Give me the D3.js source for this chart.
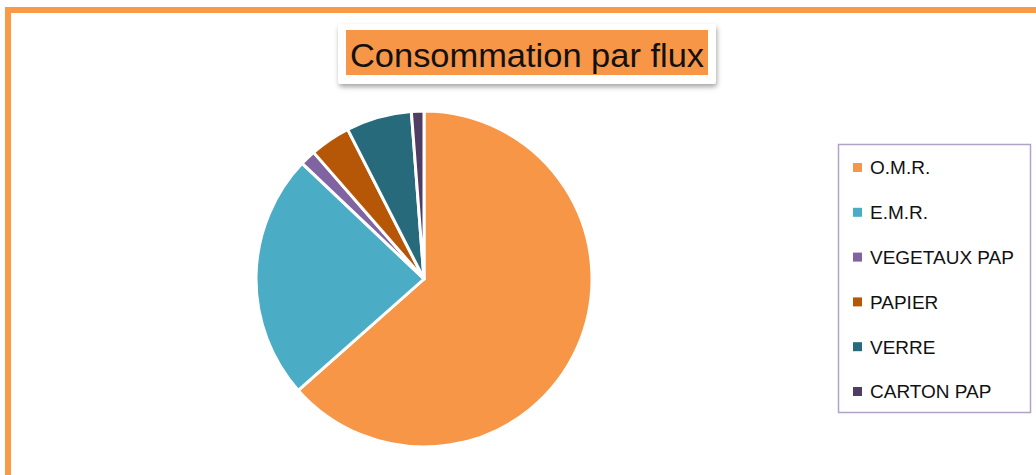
<!DOCTYPE html>
<html><head><meta charset="utf-8">
<script src="https://cdn.jsdelivr.net/npm/d3@7"></script>
<style>html,body{margin:0;padding:0;background:#fff;}svg{display:block;}</style>
</head><body>
<svg id="chart" width="1036" height="475"></svg>
<script>
const title = "Consommation par flux";
const categories = ["O.M.R.", "E.M.R.", "VEGETAUX PAP", "PAPIER", "VERRE", "CARTON PAP"];
const values = [63.4, 23.6, 1.5, 3.9, 6.3, 1.2];
const colors = ["#f79646", "#4bacc6", "#8064a2", "#b65708", "#276a7c", "#4f3d64"];

const svg = d3.select("#chart");
const defs = svg.append("defs");
const f = defs.append("filter").attr("id","sh").attr("x","-10%").attr("y","-30%").attr("width","120%").attr("height","170%");
f.append("feDropShadow").attr("dx",1).attr("dy",3).attr("stdDeviation",2.5).attr("flood-color","#000").attr("flood-opacity",0.35);

// outer border
svg.append("rect").attr("x",8).attr("y",10).attr("width",1040).attr("height",480)
  .attr("fill","none").attr("stroke","#f89a48").attr("stroke-width",6);

// title
const tg = svg.append("g");
tg.append("rect").attr("x",338).attr("y",24).attr("width",378).attr("height",60).attr("rx",3)
  .attr("fill","#fff").attr("filter","url(#sh)");
tg.append("rect").attr("x",346).attr("y",30).attr("width",362).attr("height",45).attr("fill","#f79646");
tg.append("text").attr("x",527).attr("y",67).attr("text-anchor","middle")
  .attr("font-family","'Liberation Sans', Arial, sans-serif").attr("font-size",34).attr("fill","#111")
  .attr("textLength",354).attr("lengthAdjust","spacingAndGlyphs").text(title);

// pie
const cx = 424, cy = 279, r = 168;
const pie = d3.pie().sort(null).value(d => d);
const arc = d3.arc().innerRadius(0).outerRadius(r);
const color = d3.scaleOrdinal().domain(categories).range(colors);
svg.append("g").attr("transform",`translate(${cx},${cy})`)
  .selectAll("path").data(pie(values)).join("path")
  .attr("d",arc).attr("fill",(d,i)=>color(categories[i]))
  .attr("stroke","#fff").attr("stroke-width",3).attr("stroke-linejoin","round");

// legend
const lg = svg.append("g");
lg.append("rect").attr("x",838.5).attr("y",144.5).attr("width",192).attr("height",268)
  .attr("fill","#fff").attr("stroke","#b3a2c7").attr("stroke-width",1.5);
const ly = d3.scalePoint().domain(categories).range([167.5, 391.5]);
const items = lg.selectAll("g.item").data(categories).join("g").attr("class","item")
  .attr("transform", d => `translate(0,${ly(d)})`);
items.append("rect").attr("x",853).attr("y",-4.5).attr("width",9).attr("height",9).attr("fill", d => color(d));
items.append("text").attr("x",870).attr("y",6.8).attr("font-family","'Liberation Sans', Arial, sans-serif")
  .attr("font-size",19).attr("fill","#111").text(d => d);
</script>
</body></html>
